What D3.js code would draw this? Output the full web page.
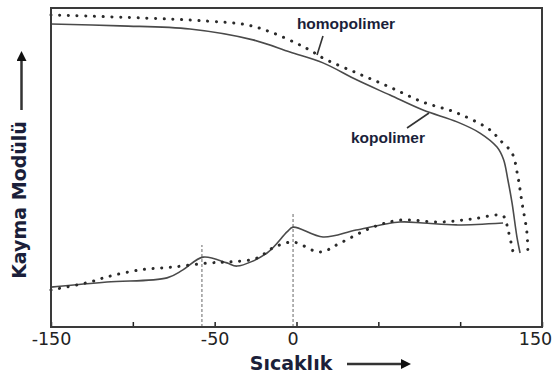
<!DOCTYPE html>
<head>
<meta charset="utf-8">
<style>
body { margin: 0; background: #fff; }
.frame { fill: none; stroke: #3a3a3a; stroke-width: 2px; }
.kopo { fill: none; stroke: #4a4a4a; stroke-width: 1.6px; }
.homo { fill: none; stroke: #2a2a2a; stroke-width: 3px; stroke-linecap: round; stroke-dasharray: 0.1 8.6; }
.trans { stroke: #9a9a9a; stroke-width: 1.5px; stroke-dasharray: 3 2; }
.tick line { stroke: #222; stroke-width: 1.5px; }
.tick text { font-family: "DejaVu Sans", sans-serif; font-size: 17.5px; fill: #222; }
.title { font-family: "DejaVu Sans", sans-serif; font-weight: bold; font-size: 19px; fill: #1b1f3a; }
.lbl { font-family: "Liberation Sans", Arial, sans-serif; font-weight: bold; font-size: 15.5px; fill: #1b1f3a; }
.leader { stroke: #333; stroke-width: 1.6px; }
.arrow { stroke: #333; stroke-width: 2.5px; }
</style>
<title></title>
</head>
<body>
<script src="https://cdn.jsdelivr.net/npm/d3@7"></script>
<script>

// sıcaklık (°C) / kayma modülü (arbitrary units 0-100)
var kopoUpperT = [-150, -107.8, -65.1, -26.6, -4, 16.2, 37, 57.1, 77.3, 98.1, 112.1, 122.5, 126.5, 129.2, 131.7, 134.7, 136.6];
var kopoUpperG = [95.0, 94.4, 93.4, 90.0, 86.2, 82.8, 77.4, 72.7, 68.0, 64.3, 60.8, 56.4, 52.5, 46.0, 38.9, 28.2, 23.2];

var homoUpperT = [-150, -95.6, -54.7, -30.2, -14.4, -0.3, 8.2, 16.2, 37, 57.1, 77.3, 98.1, 118.2, 124.3, 131.7, 135.3, 137.8, 140.8, 141.4];
var homoUpperG = [97.8, 96.9, 95.9, 94.7, 92.2, 89.0, 86.8, 84.3, 79.6, 75.2, 70.5, 67.1, 61.8, 58.6, 54.5, 47.0, 38.9, 29.5, 21.9];

var kopoLowerT = [-150, -115.8, -79.1, -69.4, -57.1, -42.5, -36.4, -18, -5.8, -2.1, 16.2, 36.4, 63.2, 77.3, 97.5, 126.2];
var kopoLowerG = [12.5, 14.1, 15.4, 17.9, 21.9, 20.1, 19.1, 23.2, 29.8, 31.3, 28.2, 30.4, 32.9, 32.6, 32.0, 32.6];

var homoLowerT = [-150, -126.2, -115.8, -95.6, -75.5, -52.9, -40.6, -24.1, -14.4, -2.1, 14.4, 26.6, 46.7, 63.2, 87.7, 107.8, 126.2, 129.2, 132.3];
var homoLowerG = [11.6, 14.1, 15.7, 17.9, 18.8, 20.1, 20.4, 21.6, 24.8, 26.6, 23.5, 26.3, 31.3, 33.5, 32.9, 33.9, 34.8, 30.5, 23.5];

// dashed transition markers: temperature and height
var transT = [-57.8, -2.1];
var transG = [25.7, 35.4];

var tickValues = [-150, -100, -50, 0, 50, 100, 150];
var tickLabels = ["-150", "", "-50", "0", "", "", "150"];

var width = 553, height = 379;
var margin = {top: 8, right: 11, bottom: 52, left: 51};

var svg = d3.select("body").append("svg")
    .attr("width", width)
    .attr("height", height);

var x = d3.scaleLinear().domain([-150, 150]).range([margin.left, width - margin.right]);
var y = d3.scaleLinear().domain([0, 100]).range([height - margin.bottom, margin.top]);

function pts(ts, gs) {
  return ts.map(function(t, i) { return [t, gs[i]]; });
}

var line = d3.line()
    .x(function(d) { return x(d[0]); })
    .y(function(d) { return y(d[1]); })
    .curve(d3.curveCatmullRom.alpha(0.5));

// transitions
svg.selectAll("line.trans")
    .data(transT)
    .enter().append("line")
    .attr("class", "trans")
    .attr("x1", function(d) { return x(d); })
    .attr("x2", function(d) { return x(d); })
    .attr("y1", y(0))
    .attr("y2", function(d, i) { return y(transG[i]); });

svg.append("path").attr("class", "kopo").attr("d", line(pts(kopoUpperT, kopoUpperG)));
svg.append("path").attr("class", "kopo").attr("d", line(pts(kopoLowerT, kopoLowerG)));
svg.append("path").attr("class", "homo").attr("d", line(pts(homoUpperT, homoUpperG)));
svg.append("path").attr("class", "homo").attr("d", line(pts(homoLowerT, homoLowerG)));

// x axis, ticks inside
var axis = svg.append("g")
    .attr("transform", "translate(0," + y(0) + ")")
    .call(d3.axisBottom(x)
        .tickValues(tickValues)
        .tickSizeInner(-5)
        .tickSizeOuter(0)
        .tickPadding(6)
        .tickFormat(function(d, i) { return tickLabels[i]; }));
axis.select(".domain").remove();
// labels sit a little left of their ticks in the original; keep 150 inside the page
axis.selectAll(".tick text")
    .attr("dx", function(d) { return d == 150 ? -7 : (d >= 0 ? -4 : 0); });

svg.append("rect")
    .attr("class", "frame")
    .attr("x", x(-150))
    .attr("y", y(100))
    .attr("width", x(150) - x(-150))
    .attr("height", y(0) - y(100));

// series labels with leader lines
svg.append("text").attr("class", "lbl")
    .attr("x", 346).attr("y", 29)
    .attr("text-anchor", "middle")
    .text("homopolimer");
svg.append("line").attr("class", "leader")
    .attr("x1", 323).attr("y1", 36).attr("x2", 317).attr("y2", 55);

svg.append("text").attr("class", "lbl")
    .attr("x", 388).attr("y", 143)
    .attr("text-anchor", "middle")
    .text("kopolimer");
svg.append("line").attr("class", "leader")
    .attr("x1", 407).attr("y1", 128).attr("x2", 429).attr("y2", 113);

// axis titles with arrows
svg.append("defs").append("marker")
    .attr("id", "head")
    .attr("viewBox", "0 0 10 10")
    .attr("refX", 1).attr("refY", 5)
    .attr("markerWidth", 4).attr("markerHeight", 4)
    .attr("markerUnits", "strokeWidth")
    .attr("orient", "auto")
    .append("path")
    .attr("d", "M0,0L10,5L0,10z")
    .attr("fill", "#111");

svg.append("text").attr("class", "title")
    .attr("transform", "translate(26,200) rotate(-90)")
    .attr("text-anchor", "middle")
    .text("Kayma Modülü");
svg.append("line").attr("class", "arrow")
    .attr("x1", 21.5).attr("y1", 110).attr("x2", 21.5).attr("y2", 60)
    .attr("marker-end", "url(#head)");

svg.append("text").attr("class", "title")
    .attr("x", 291).attr("y", 370)
    .attr("text-anchor", "middle")
    .text("Sıcaklık");
svg.append("line").attr("class", "arrow")
    .attr("x1", 347).attr("y1", 364).attr("x2", 402).attr("y2", 364)
    .attr("marker-end", "url(#head)");

</script>
</body>
</html>
